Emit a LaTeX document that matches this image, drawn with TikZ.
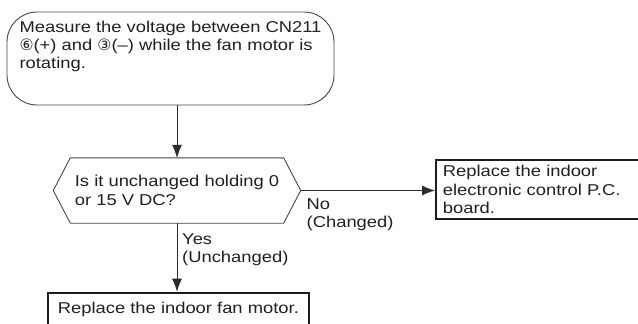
\documentclass[tikz,border=0pt]{standalone}
\usepackage{fontspec}
\setmainfont{Liberation Sans}[FakeStretch=1.17]
\newfontfamily\circfont{DejaVu Sans}
\usetikzlibrary{arrows.meta}
\definecolor{fcLine}{RGB}{70,70,70}
\definecolor{fcFlow}{RGB}{45,43,43}
\definecolor{fcBox} {RGB}{30,28,28}
\definecolor{fcText}{RGB}{35,31,32}

\begin{document}
\begin{tikzpicture}[x=1pt,y=1pt,
  every node/.style={font=\fontsize{15.7}{18.3}\selectfont,text=fcText},
  >={Latex[length=13pt,width=10pt]},
  start/.style={draw=fcLine,line width=0.9pt,rounded corners=30pt,
                minimum width=327pt,align=left,inner ysep=9pt,
                text height=47.9pt,text depth=27.1pt},
  query/.style={minimum width=247pt,minimum height=65pt,align=left},
  result/.style={draw=fcBox,line width=1.8pt,align=left,anchor=north west},
  answer/.style={align=left,anchor=north west,inner sep=0pt},
  flow/.style={->,draw=fcFlow,line width=0.8pt}
]
\useasboundingbox (0,0) rectangle (638,-324);
\clip (0,0) rectangle (638,-324);

\node[start] (meas) at (170.5,-58.5)
  {Measure the voltage between CN211\\{\circfont ⑥}(+) and {\circfont ③}(–) while the fan motor is\\rotating.};

\node[query] (quest) at (177,-190.5) {Is it unchanged holding 0\\or 15 V DC?};
% hexagon round the question
\draw[fcLine,line width=0.9pt] (quest.west) -- ([xshift=17pt]quest.north west)
  -- ([xshift=-17pt]quest.north east) -- (quest.east)
  -- ([xshift=-17pt]quest.south east) -- ([xshift=17pt]quest.south west) -- cycle;

\node[result,minimum height=59pt,text width=230pt,inner xsep=7pt] (pcb) at (435,-159)
  {Replace the indoor\\electronic control P.C.\\board.};
\node[result,minimum width=261pt,inner ysep=10pt,
      text height=11.3pt,text depth=15pt] (motor) at (47,-291.7)
  {Replace the indoor fan motor.};

\node[answer] (no)  at (306.5,-198.5)  {No\\(Changed)};
\node[answer] (yes) at (182,-233)      {Yes\\(Unchanged)};

\draw[flow] (meas.south -| quest.north) -- (quest.north);
\draw[flow] (quest.east) -- (quest.east -| pcb.west);
\draw[flow] (quest.south) -- (quest.south |- motor.north);
\end{tikzpicture}
\end{document}
